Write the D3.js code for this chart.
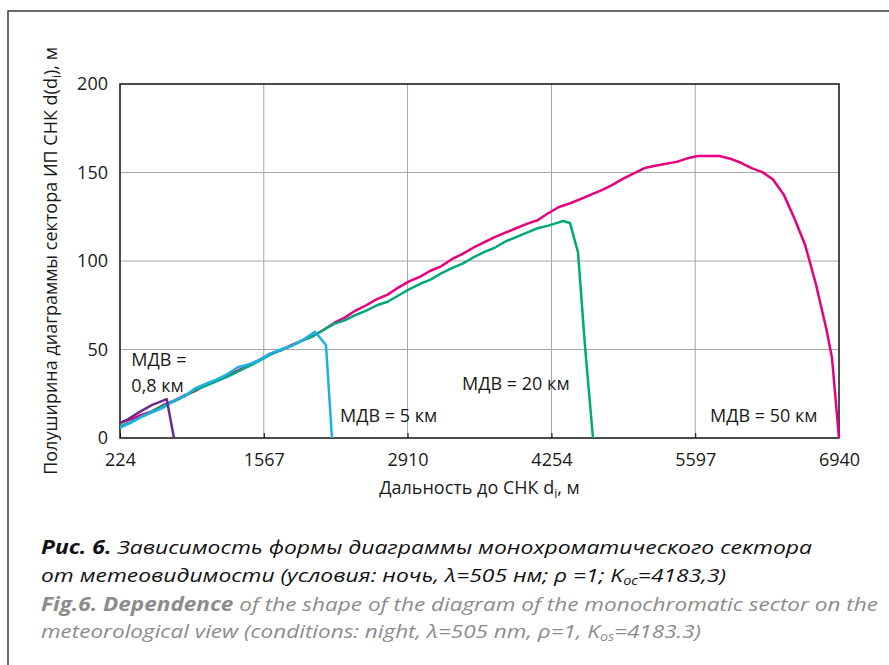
<!DOCTYPE html>
<html>
<head>
<meta charset="utf-8">
<script src="https://cdn.jsdelivr.net/npm/d3@7"></script>
<style>
  body { margin: 0; background: #fff; }
  svg { display: block; }
</style>
</head>
<body>
<script>
// Axis ticks
const xTicks = [224, 1567, 2910, 4254, 5597, 6940];
const yTicks = [0, 50, 100, 150, 200];

// МДВ = 50 км
const dist50 = [224, 324, 424, 524, 624, 724, 824, 924, 1024, 1124, 1224, 1324, 1424, 1524, 1624, 1724, 1824, 1924, 2024, 2124,
  2224, 2324, 2424, 2524, 2624, 2724, 2824, 2924, 3024, 3124, 3224, 3324, 3424, 3524, 3624, 3724, 3824, 3924, 4024, 4124,
  4224, 4324, 4424, 4524, 4624, 4724, 4824, 4924, 5024, 5124, 5224, 5324, 5424, 5524, 5624, 5724, 5824, 5924, 6024, 6124,
  6224, 6324, 6424, 6524, 6624, 6724, 6824, 6875, 6940];
const width50 = [8.5, 10.5, 13.0, 15.0, 18.5, 21.0, 24.0, 26.5, 30.0, 32.5, 35.5, 38.0, 41.0, 44.0, 47.5, 49.5, 52.5, 55.0, 57.5, 61.0,
  65.0, 68.0, 72.0, 75.0, 78.5, 81.0, 85.0, 88.5, 91.0, 94.5, 97.0, 101.0, 104.0, 107.5, 110.5, 113.5, 116.0, 118.5, 121.0, 123.0,
  127.0, 130.5, 132.5, 135.0, 137.5, 140.0, 143.0, 146.5, 149.5, 152.5, 153.8, 155.0, 156.0, 158.0, 159.3, 159.3, 159.3, 157.8, 155.5, 152.5,
  150.2, 146.0, 137.5, 124.0, 109.0, 87.0, 61.0, 45.0, 0];

// МДВ = 20 км
const dist20 = [224, 324, 424, 524, 624, 724, 824, 924, 1024, 1124, 1224, 1324, 1424, 1524, 1624, 1724, 1824, 1924, 2024, 2124,
  2224, 2324, 2424, 2524, 2624, 2724, 2824, 2924, 3024, 3124, 3224, 3324, 3424, 3524, 3624, 3724, 3824, 3924, 4024, 4124,
  4224, 4324, 4362, 4427, 4502, 4568, 4642];
const width20 = [6.5, 9.0, 12.0, 15.0, 18.0, 20.5, 23.5, 27.0, 29.5, 32.0, 34.5, 37.5, 40.5, 43.5, 47.0, 49.5, 52.0, 55.0, 57.5, 61.0,
  64.5, 66.5, 69.5, 72.0, 75.0, 77.0, 80.5, 84.0, 87.0, 89.5, 93.0, 96.0, 98.5, 102.0, 105.0, 107.5, 111.0, 113.5, 116.0, 118.5,
  120.0, 121.8, 122.6, 121.5, 105.0, 51.4, 0];

// МДВ = 5 км
const dist5 = [224, 324, 424, 524, 624, 724, 824, 924, 1024, 1124, 1224, 1324, 1424, 1524, 1624, 1724, 1824, 1924, 2046, 2148, 2204];
const width5 = [5.8, 8.5, 12.0, 14.5, 17.0, 21.0, 23.5, 28.0, 30.5, 33.0, 36.0, 40.0, 41.5, 44.0, 47.5, 50.0, 52.0, 55.0, 60.0, 52.5, 0];

// МДВ = 0,8 км
const dist08 = [224, 287, 400, 520, 660, 728];
const width08 = [8.6, 10.2, 14.5, 18.6, 22.0, 0];

const seriesColors = ["#e6007e", "#00a97a", "#1bb0e6", "#6a2c91"];

const W = 889, H = 665;
const plot = { left: 120, right: 839, top: 84, bottom: 438 };
const font = "'Open Sans', sans-serif";

const svg = d3.select("body").append("svg").attr("width", W).attr("height", H);

// outer frame (open to the right and bottom)
svg.append("path")
  .attr("d", `M8,${H} L8,11 L${W},11`)
  .attr("fill", "none").attr("stroke", "#3a3a3a").attr("stroke-width", 1.5);

const x = d3.scaleLinear().domain([224, 6940]).range([plot.left, plot.right]);
const y = d3.scaleLinear().domain([0, 200]).range([plot.bottom, plot.top]);

// grid
const g = svg.append("g");
g.selectAll("line.vg").data(xTicks.slice(1, -1)).join("line")
  .attr("x1", d => x(d)).attr("x2", d => x(d))
  .attr("y1", plot.top).attr("y2", plot.bottom)
  .attr("stroke", "#a6a6a6").attr("stroke-width", 1);
g.selectAll("line.hg").data(yTicks.slice(1, -1)).join("line")
  .attr("x1", plot.left).attr("x2", plot.right)
  .attr("y1", d => y(d)).attr("y2", d => y(d))
  .attr("stroke", "#a6a6a6").attr("stroke-width", 1);

// x axis with inward ticks
const xAxis = d3.axisBottom(x).tickValues(xTicks).tickSizeInner(-5).tickSizeOuter(0).tickPadding(15).tickFormat(d3.format("d"));
const xg = svg.append("g").attr("transform", `translate(0,${plot.bottom})`).call(xAxis);
xg.select(".domain").remove();
xg.selectAll(".tick line").attr("stroke", "#000");
xg.selectAll("text").attr("font-family", font).attr("font-size", 18).attr("fill", "#1a1a1a");

const yAxis = d3.axisLeft(y).tickValues(yTicks).tickSize(0).tickPadding(12);
const yg = svg.append("g").attr("transform", `translate(${plot.left},0)`).call(yAxis);
yg.select(".domain").remove();
yg.selectAll("text").attr("font-family", font).attr("font-size", 18).attr("fill", "#1a1a1a");

// plot frame
svg.append("rect")
  .attr("x", plot.left).attr("y", plot.top)
  .attr("width", plot.right - plot.left).attr("height", plot.bottom - plot.top)
  .attr("fill", "none").attr("stroke", "#111").attr("stroke-width", 1.5);

// curves
const line = d3.line().x(d => x(d[0])).y(d => y(d[1]));
const series = [
  d3.zip(dist50, width50),
  d3.zip(dist20, width20),
  d3.zip(dist5, width5),
  d3.zip(dist08, width08)
];
svg.append("g").selectAll("path").data(series).join("path")
  .attr("d", line)
  .attr("fill", "none")
  .attr("stroke", (d, i) => seriesColors[i])
  .attr("stroke-width", 2.5)
  .attr("stroke-linejoin", "round");

// curve labels (anchored in data units: distance, half-width)
const labels = [
  { t: "МДВ =", d: 330, v: 40.5 },
  { t: "0,8 км", d: 330, v: 25.8 },
  { t: "МДВ = 5 км", d: 2279, v: 8.8 },
  { t: "МДВ = 20 км", d: 3419, v: 27.1 },
  { t: "МДВ = 50 км", d: 5735, v: 8.8 }
];
svg.append("g").selectAll("text").data(labels).join("text")
  .attr("x", d => x(d.d))
  .attr("y", d => y(d.v))
  .attr("font-family", font).attr("font-size", 18).attr("fill", "#1a1a1a")
  .text(d => d.t);

// axis titles
const xt = svg.append("text")
  .attr("x", (plot.left + plot.right) / 2).attr("y", 494)
  .attr("text-anchor", "middle")
  .attr("font-family", font).attr("font-size", 18).attr("fill", "#1a1a1a");
xt.append("tspan").text("Дальность до СНК d");
xt.append("tspan").attr("font-size", 12).attr("dy", 4).text("i");
xt.append("tspan").attr("dy", -4).text(", м");

const yt = svg.append("text")
  .attr("transform", `translate(57,${(plot.top + plot.bottom) / 2}) rotate(-90)`)
  .attr("text-anchor", "middle")
  .attr("font-family", font).attr("font-size", 18).attr("fill", "#1a1a1a");
yt.append("tspan").text("Полуширина диаграммы сектора ИП СНК d(d");
yt.append("tspan").attr("font-size", 12).attr("dy", 4).text("i");
yt.append("tspan").attr("dy", -4).text("), м");

// caption
const capFont = "'Open Sans', sans-serif";
const cap1 = svg.append("text").attr("x", 41).attr("y", 554)
  .attr("font-family", capFont).attr("font-size", 19).attr("font-style", "italic").attr("fill", "#111")
  .attr("textLength", 771).attr("lengthAdjust", "spacingAndGlyphs");
cap1.append("tspan").attr("font-weight", "bold").text("Рис. 6.");
cap1.append("tspan").text(" Зависимость формы диаграммы монохроматического сектора");

const cap2 = svg.append("text").attr("x", 41).attr("y", 582)
  .attr("font-family", capFont).attr("font-size", 19).attr("font-style", "italic").attr("fill", "#111")
  .attr("textLength", 685).attr("lengthAdjust", "spacingAndGlyphs");
cap2.append("tspan").text("от метеовидимости (условия: ночь, λ=505 нм; ρ =1; K");
cap2.append("tspan").attr("font-size", 12).attr("dy", 3).text("oc");
cap2.append("tspan").attr("dy", -3).text("=4183,3)");

const cap3 = svg.append("text").attr("x", 41).attr("y", 611)
  .attr("font-family", capFont).attr("font-size", 19).attr("font-style", "italic").attr("fill", "#8c8c8c")
  .attr("textLength", 837).attr("lengthAdjust", "spacingAndGlyphs");
cap3.append("tspan").attr("font-weight", "bold").text("Fig.6. Dependence");
cap3.append("tspan").text(" of the shape of the diagram of the monochromatic sector on the");

const cap4 = svg.append("text").attr("x", 41).attr("y", 638)
  .attr("font-family", capFont).attr("font-size", 19).attr("font-style", "italic").attr("fill", "#8c8c8c")
  .attr("textLength", 660).attr("lengthAdjust", "spacingAndGlyphs");
cap4.append("tspan").text("meteorological view (conditions: night, λ=505 nm, ρ=1, K");
cap4.append("tspan").attr("font-size", 12).attr("dy", 3).text("os");
cap4.append("tspan").attr("dy", -3).text("=4183.3)");
</script>
</body>
</html>
